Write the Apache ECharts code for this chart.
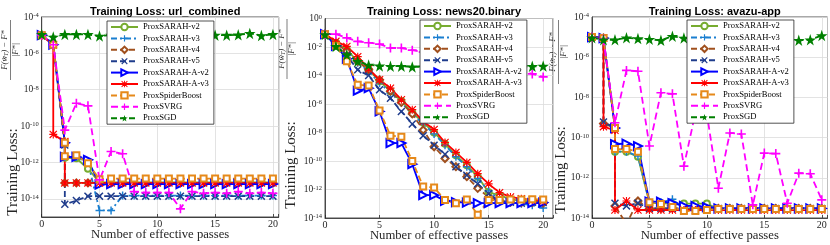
<!DOCTYPE html>
<html><head><meta charset="utf-8">
<script src="https://cdn.jsdelivr.net/npm/echarts@6/dist/echarts.min.js"></script>
<style>html,body{margin:0;padding:0;background:#fff}#c{width:830px;height:245px}</style>
</head><body><div id="c"></div>
<script>
// ---------------- data ----------------
const seriesNames = ['ProxSARAH-v2','ProxSARAH-v3','ProxSARAH-v4','ProxSARAH-v5','ProxSARAH-A-v2','ProxSARAH-A-v3','ProxSpiderBoost','ProxSVRG','ProxSGD'];
const panelTitles = ['Training Loss: url_combined','Training Loss: news20.binary','Training Loss: avazu-app'];
const xAxisTitle = 'Number of effective passes';
const xTickValues = [0,5,10,15,20];
const passes = [0,1,2,3,4,5,6,7,8,9,10,11,12,13,14,15,16,17,18,19,20];

// url_combined : [passes, loss]
const url_v2 = [[0,1e-5],[1,3e-6],[2,1.2e-11],[2,1.8e-12],[3,1.7e-12],[4,4.5e-13],[5,8e-14],[6,8e-14],[7,8e-14],[8,8e-14],[9,8e-14],[10,8e-14],[11,8e-14],[12,8e-14],[13,8e-14],[14,8e-14],[15,8e-14],[16,8e-14],[17,8e-14],[18,8e-14],[19,8e-14],[20,8e-14]];
const url_v3 = [[0,1e-5],[1,3e-6],[2,1.2e-11],[2,2e-12],[3,2e-12],[4,1e-12],[5,2.3e-15],[6,2.3e-15],[7,1.5e-14],[8,1.5e-14],[9,1.5e-14],[10,1.5e-14],[11,1.5e-14],[12,1.5e-14],[13,1.5e-14],[14,1.5e-14],[15,1.5e-14],[16,1.5e-14],[17,1.5e-14],[18,1.5e-14],[19,1.5e-14],[20,1.5e-14]];
const url_v4 = [[0,1e-5],[1,3e-6],[2,1.2e-11],[2,7.5e-14],[3,7.5e-14],[4,7.5e-14],[5,7.5e-14],[6,7.5e-14],[7,7.5e-14],[8,7.5e-14],[9,7.5e-14],[10,7.5e-14],[11,7.5e-14],[12,7.5e-14],[13,7.5e-14],[14,7.5e-14],[15,7.5e-14],[16,7.5e-14],[17,7.5e-14],[18,7.5e-14],[19,7.5e-14],[20,7.5e-14]];
const url_v5 = [[0,1e-5],[1,3e-6],[2,9e-12],[2,5e-15],[3,8e-15],[4,1.4e-14],[5,1.4e-14],[6,1.4e-14],[7,1.4e-14],[8,1.4e-14],[9,1.4e-14],[10,1.4e-14],[11,1.4e-14],[12,1.4e-14],[13,1.4e-14],[14,1.4e-14],[15,1.4e-14],[16,1.4e-14],[17,1.4e-14],[18,1.4e-14],[19,1.4e-14],[20,1.4e-14]];
const url_av2 = [[0,1e-5],[1,3e-6],[2,1.2e-11],[2,2e-12],[3,2e-12],[4,1.4e-12],[5,6e-14],[6,6.5e-14],[7,6.5e-14],[8,6.5e-14],[9,6.5e-14],[10,6.5e-14],[11,6.5e-14],[12,6.5e-14],[13,6.5e-14],[14,6.5e-14],[15,6.5e-14],[16,6.5e-14],[17,6.5e-14],[18,6.5e-14],[19,6.5e-14],[20,6.5e-14]];
const url_av3 = [[0,1e-5],[1,3e-6],[1,3.5e-11],[2,1.4e-11],[2,7.5e-14],[3,7.5e-14],[4,7.5e-14],[5,7.5e-14],[6,7.5e-14],[7,7.5e-14],[8,7.5e-14],[9,7.5e-14],[10,7.5e-14],[11,7.5e-14],[12,7.5e-14],[13,7.5e-14],[14,7.5e-14],[15,7.5e-14],[16,7.5e-14],[17,7.5e-14],[18,7.5e-14],[19,7.5e-14],[20,7.5e-14]];
const url_spider = [[0,1e-5],[1,3e-6],[2,1.2e-11],[2,2.2e-12],[3,2.5e-12],[4,9e-13],[5,1.2e-13],[6,1.3e-13],[7,1.3e-13],[8,1.3e-13],[9,1.3e-13],[10,1.3e-13],[11,1.3e-13],[12,1.3e-13],[13,1.3e-13],[14,1.3e-13],[15,1.3e-13],[16,1.3e-13],[17,1.3e-13],[18,1.3e-13],[19,1.3e-13],[20,1.3e-13]];
const url_svrg = [1e-5,3e-6,6e-11,1.8e-9,1.3e-9,1.1e-13,4e-12,3e-12,2.5e-14,2.2e-14,2.2e-14,2.2e-14,2.8e-15,2.5e-14,2e-14,2.2e-14,2e-14,2.5e-14,2e-14,2.2e-14,2e-14];
const url_sgd = [1.1e-5,8e-6,1.1e-5,1.1e-5,1.1e-5,9e-6,1e-5,1e-5,1.05e-5,1e-5,1e-5,1e-5,9.5e-6,1e-5,1.05e-5,1e-5,1e-5,1.05e-5,1.25e-5,9.5e-6,1.1e-5];

// news20.binary : loss at passes 0..20
const news_v2 = [0.08,0.02,6.3e-3,1e-3,2.5e-4,4e-5,8e-6,1.6e-6,2.5e-7,5e-8,1e-8,1.6e-9,2.5e-10,5e-11,8e-12,6.3e-13,4e-13,2e-13,1.6e-13,1.4e-13,1.3e-13];
const news_v3 = [0.08,0.02,5e-3,8e-4,2e-4,3e-5,6e-6,1.2e-6,2e-7,4e-8,8e-9,1.3e-9,2e-10,4e-11,6e-12,8e-13,2e-13,1.2e-13,1e-13,8e-14,5e-14];
const news_v4 = [0.08,0.018,5e-3,1e-3,2.5e-4,5e-5,8e-6,1.3e-6,2e-7,1.5e-8,1e-9,1.5e-10,4e-11,8e-12,1.2e-12,3e-13,1.6e-13,1.3e-13,1.2e-13,1.2e-13,1.1e-13];
const news_v5 = [0.08,0.013,2.5e-3,2.5e-4,1e-4,1e-5,2.5e-6,3e-7,4e-8,6e-9,1.3e-9,3e-10,4e-11,1e-11,2.5e-12,5e-13,1.6e-13,1.3e-13,1.1e-13,1.3e-13,1.2e-13];
const news_av2 = [0.08,0.012,1.5e-3,8.5e-6,1.3e-5,3e-7,1.8e-9,1.8e-9,6e-11,4e-13,4e-13,1.6e-13,1.3e-13,1.2e-13,1.1e-13,1.1e-13,1.1e-13,1.1e-13,1.1e-13,1.1e-13,1.2e-13];
const news_av3 = [0.08,0.025,0.011,2.1e-3,3e-4,5e-5,1.3e-5,2e-6,4e-7,6e-8,1.6e-8,2e-9,4e-10,8e-11,1.3e-11,2.5e-12,6e-13,3e-13,2.2e-13,1.8e-13,1.6e-13];
const news_spider = [0.08,0.012,1e-3,2.2e-5,2e-5,3.5e-7,6e-9,5e-9,1e-10,1.6e-12,1.4e-12,1.8e-13,1.1e-13,2e-13,1.7e-14,1.8e-13,1.8e-13,2e-13,2e-13,2.1e-13,2e-13];
const news_svrg = [0.08,0.08,0.044,0.025,0.02,0.016,0.0085,0.0085,0.006,0.0045,0.0035,0.0028,0.002,0.0015,0.001,7e-4,5e-4,3.5e-4,2e-4,1.3e-4,8e-5];
const news_sgd = [0.075,0.011,2.9e-3,1e-3,5.5e-4,4.7e-4,4.5e-4,4.5e-4,4e-4,4e-4,4.2e-4,4e-4,4.3e-4,4.1e-4,4e-4,4.2e-4,4.3e-4,4.1e-4,4.2e-4,4.4e-4,4.6e-4];

// avazu-app : [passes, loss]
const avazu_v2 = [[0,1e-5],[1,9e-6],[2,3e-10],[2,2e-11],[3,2e-11],[4,1.1e-11],[5,5.5e-14],[6,5.5e-14],[7,5e-14],[8,5.2e-14],[9,5.2e-14],[10,5.2e-14],[11,2.8e-14],[12,2.8e-14],[13,2.8e-14],[14,2.8e-14],[15,2.8e-14],[16,2.8e-14],[17,2.8e-14],[18,2.8e-14],[19,2.8e-14],[20,2.8e-14]];
const avazu_v3 = [[0,1e-5],[1,9e-6],[2,3e-10],[2,2e-11],[3,2e-11],[4,1.2e-11],[5,6e-14],[6,6e-14],[7,8.5e-14],[8,3e-14],[9,3e-14],[10,3e-14],[11,3e-14],[12,3e-14],[13,3e-14],[14,3e-14],[15,3e-14],[16,3e-14],[17,3e-14],[18,3e-14],[19,3e-14],[20,3e-14]];
const avazu_v4 = [[0,1e-5],[1,9e-6],[1,5e-10],[2,3e-10],[2,4e-14],[3,5e-15],[4,7e-14],[5,3e-14],[6,3e-14],[7,3e-14],[8,3e-14],[9,3e-14],[10,3e-14],[11,3e-14],[12,3e-14],[13,3e-14],[14,3e-14],[15,3e-14],[16,3e-14],[17,3e-14],[18,3e-14],[19,3e-14],[20,3e-14]];
const avazu_v5 = [[0,1e-5],[1,9e-6],[1,6e-10],[2,3e-10],[2,5.4e-14],[3,4e-14],[4,5.5e-14],[5,3e-14],[6,3e-14],[7,3e-14],[8,3e-14],[9,3e-14],[10,3e-14],[11,3e-14],[12,3e-14],[13,3e-14],[14,3e-14],[15,3e-14],[16,3e-14],[17,3e-14],[18,3e-14],[19,3e-14],[20,3e-14]];
const avazu_av2 = [[0,1e-5],[1,9e-6],[2,3e-10],[2,4.8e-11],[3,5e-11],[4,3.8e-11],[5,6.5e-14],[6,6.5e-14],[7,5.5e-14],[8,4e-14],[9,4e-14],[10,3.5e-14],[11,3e-14],[12,3e-14],[13,3e-14],[14,3e-14],[15,3e-14],[16,3e-14],[17,3e-14],[18,3e-14],[19,3e-14],[20,3e-14]];
const avazu_av3 = [[0,1e-5],[1,9e-6],[1,3.5e-10],[2,2.3e-10],[2,2.5e-14],[3,7e-14],[4,2.5e-14],[5,2.5e-14],[6,2.5e-14],[7,2.5e-14],[8,2.5e-14],[9,2.5e-14],[10,2.5e-14],[11,2.5e-14],[12,2.5e-14],[13,2.5e-14],[14,2.5e-14],[15,2.5e-14],[16,2.5e-14],[17,2.5e-14],[18,2.5e-14],[19,2.5e-14],[20,2.5e-14]];
const avazu_spider = [[0,1e-5],[1,9e-6],[2,3e-10],[2,2.7e-11],[3,2.7e-11],[4,2e-11],[5,6e-14],[6,5e-14],[7,3.5e-14],[8,2.2e-14],[9,2.2e-14],[10,2.5e-14],[11,2.8e-14],[12,2.8e-14],[13,2.8e-14],[14,2.8e-14],[15,2.8e-14],[16,2.8e-14],[17,2.8e-14],[18,2.8e-14],[19,2.8e-14],[20,2.8e-14]];
const avazu_svrg = [1e-5,8e-6,5.5e-10,2.2e-7,2e-7,3.8e-11,1.7e-8,1.5e-8,3.8e-12,1.7e-9,1.5e-9,3e-13,1.7e-10,1.5e-10,4.5e-14,1.7e-11,1.6e-11,5.4e-14,1.7e-12,1.6e-12,8e-14];
const avazu_sgd = [9.3e-6,7.4e-6,7.4e-6,9.3e-6,8.4e-6,7.8e-6,6.9e-6,1.1e-5,9e-6,9e-6,8.5e-6,8e-6,8.5e-6,9e-6,8e-6,8.5e-6,9e-6,8e-6,7e-6,7.4e-6,1.2e-5];

// ---------------- styling ----------------
const PLUS = 'path://M4.1,0H5.9V4.1H10V5.9H5.9V10H4.1V5.9H0V4.1H4.1Z';
const XMARK = 'path://M1.3,0L5,3.7L8.7,0L10,1.3L6.3,5L10,8.7L8.7,10L5,6.3L1.3,10L0,8.7L3.7,5L0,1.3Z';
const AST = 'path://M4.3,0H5.7V4.3H10V5.7H5.7V10H4.3V5.7H0V4.3H4.3Z M1,0L5,4L9,0L10,1L6,5L10,9L9,10L5,6L1,10L0,9L4,5L0,1Z';
const STAR = 'path://M50,0L61.8,35.1L98.1,35.1L68.7,56.7L79.4,91L50,70L20.6,91L31.3,56.7L1.9,35.1L38.2,35.1Z';
const styles = [
  {color:'#77AC30', type:'solid', symbol:'emptyCircle', size:6, bw:1.4},
  {color:'#1a7fd0', type:[6,3,2,3], symbol:PLUS, size:8, bw:0},
  {color:'#A0501E', type:[6,3], symbol:'emptyDiamond', size:7, bw:1.4},
  {color:'#1F3C8C', type:[6,3], symbol:XMARK, size:8, bw:0},
  {color:'#0000FF', type:'solid', symbol:'emptyTriangle', size:8, bw:1.4, rot:-90},
  {color:'#FF0000', type:'solid', symbol:AST, size:8, bw:0},
  {color:'#E6891A', type:[6,3], symbol:'emptyRect', size:6, bw:1.4},
  {color:'#FF00FF', type:[7,4], symbol:PLUS, size:9, bw:0},
  {color:'#008000', type:[6,3], symbol:STAR, size:11.5, bw:0}
];
const GC = '#dcdcdc';
const AX = '#262626';
const SERIF = '"Liberation Serif","Times New Roman",serif';

const withPasses = arr => passes.map((p, i) => [p, arr[i]]);
const panelData = [
  [url_v2,url_v3,url_v4,url_v5,url_av2,url_av3,url_spider,withPasses(url_svrg),withPasses(url_sgd)],
  [news_v2,news_v3,news_v4,news_v5,news_av2,news_av3,news_spider,news_svrg,news_sgd].map(withPasses),
  [avazu_v2,avazu_v3,avazu_v4,avazu_v5,avazu_av2,avazu_av3,avazu_spider,withPasses(avazu_svrg),withPasses(avazu_sgd)]
];
const panels = [
  {grid:{left:41.7,top:17,width:237,height:200}, xMax:20.5, yMin:1e-15, yMax:1e-4, gcol:['rgba(0,0,0,0)',GC], lg:[107,21],
   yt:[13,172], num:[5,50], bar:[10.5,20,80], den:[15.5,50]},
  {grid:{left:325,top:18.5,width:228,height:199.5}, xMax:20.9, yMin:1e-14, yMax:1, gcol:[GC,'rgba(0,0,0,0)'], lg:[420,20],
   yt:[291.5,165], num:[281.5,49], bar:[287,19,79], den:[292,49]},
  {grid:{left:592,top:17,width:235.5,height:201}, xMax:20.5, yMin:1e-14, yMax:1e-4, gcol:[GC,'rgba(0,0,0,0)'], lg:[687,20],
   yt:[561.5,170], num:[553,52], bar:[558.5,20,84], den:[564,52]}
];

const option = {
  animation:false,
  backgroundColor:'#fff',
  title: panels.map((p,i)=>({text:panelTitles[i], left:p.grid.left+p.grid.width/2, top:1, textAlign:'center',
    textStyle:{fontFamily:'"Liberation Sans",Arial,sans-serif', fontWeight:'bold', fontSize:11, color:'#000'}})),
  grid: panels.map(p=>Object.assign({show:true, borderColor:AX, borderWidth:0.8, containLabel:false, outerBoundsMode:'none'}, p.grid)),
  legend: panels.map(p=>({data:seriesNames, orient:'vertical', left:p.lg[0], top:p.lg[1], padding:[1,5,1,3], itemGap:1.4,
    itemWidth:27, itemHeight:8, selectedMode:false, backgroundColor:'#fff', borderColor:AX, borderWidth:0.8, z:10,
    textStyle:{fontFamily:SERIF, fontSize:8.6, lineHeight:10, color:'#000'}})),
  xAxis: panels.map((p,i)=>({type:'value', gridIndex:i, min:0, max:p.xMax, interval:5,
    name:xAxisTitle, nameLocation:'middle', nameGap:11, nameMoveOverlap:false,
    nameTextStyle:{fontFamily:SERIF, fontSize:12.7, color:AX, verticalAlign:'top'},
    axisLine:{show:true, lineStyle:{color:AX, width:0.8}},
    axisTick:{show:true, inside:true, length:3, lineStyle:{color:AX, width:0.8}},
    axisLabel:{fontFamily:SERIF, fontSize:10, color:AX, margin:2, formatter:v=>(xTickValues.indexOf(v)>=0?String(v):'')},
    splitLine:{show:true, lineStyle:{color:GC, width:0.8}}})),
  yAxis: panels.map((p,i)=>({type:'log', logBase:10, gridIndex:i, min:p.yMin, max:p.yMax, interval:1,
    axisLine:{show:true, lineStyle:{color:AX, width:0.8}},
    axisTick:{show:false},
    axisLabel:{fontFamily:SERIF, fontSize:9.5, color:AX, margin:3,
      formatter:v=>{const e=Math.round(Math.log10(v)); return e%2===0 ? '10{s|'+e+'}' : '';},
      rich:{s:{fontFamily:SERIF, fontSize:6.5, color:AX, verticalAlign:'top', lineHeight:8}}},
    splitLine:{show:true, lineStyle:{color:p.gcol, width:0.8}}})),
  series: [],
  graphic: []
};
panels.forEach((p,i)=>{
  panelData[i].forEach((d,k)=>{
    const s = styles[k];
    option.series.push({type:'line', name:seriesNames[k], xAxisIndex:i, yAxisIndex:i, data:d,
      symbol:s.symbol, symbolSize:s.size, symbolRotate:s.rot||0, showAllSymbol:true, clip:true,
      lineStyle:{color:s.color, width:1.8, type:s.type},
      itemStyle:{color:s.color, borderColor:s.color, borderWidth:s.bw}});
  });
  option.graphic.push(
    {type:'text', x:p.yt[0], y:p.yt[1], rotation:Math.PI/2, style:{text:'Training Loss:', x:0, y:0, align:'center', verticalAlign:'middle', font:'15px '+SERIF, fill:AX}},
    {type:'text', x:p.num[0], y:p.num[1], rotation:Math.PI/2, style:{text:'F(w̃{t|T}) − F*', x:0, y:0, align:'center', verticalAlign:'middle', font:'italic 8.5px '+SERIF, fill:AX,
      rich:{t:{fontSize:6, fontStyle:'italic', fontFamily:SERIF, fill:AX, verticalAlign:'bottom'}}}},
    {type:'line', shape:{x1:p.bar[0], y1:p.bar[1], x2:p.bar[0], y2:p.bar[2]}, style:{stroke:AX, lineWidth:0.6}},
    {type:'text', x:p.den[0], y:p.den[1], rotation:Math.PI/2, style:{text:'|F*|', x:0, y:0, align:'center', verticalAlign:'middle', font:'italic 8.5px '+SERIF, fill:AX}}
  );
});
const chart = echarts.init(document.getElementById('c'), null, {renderer:'canvas'});
chart.setOption(option);
</script></body></html>
